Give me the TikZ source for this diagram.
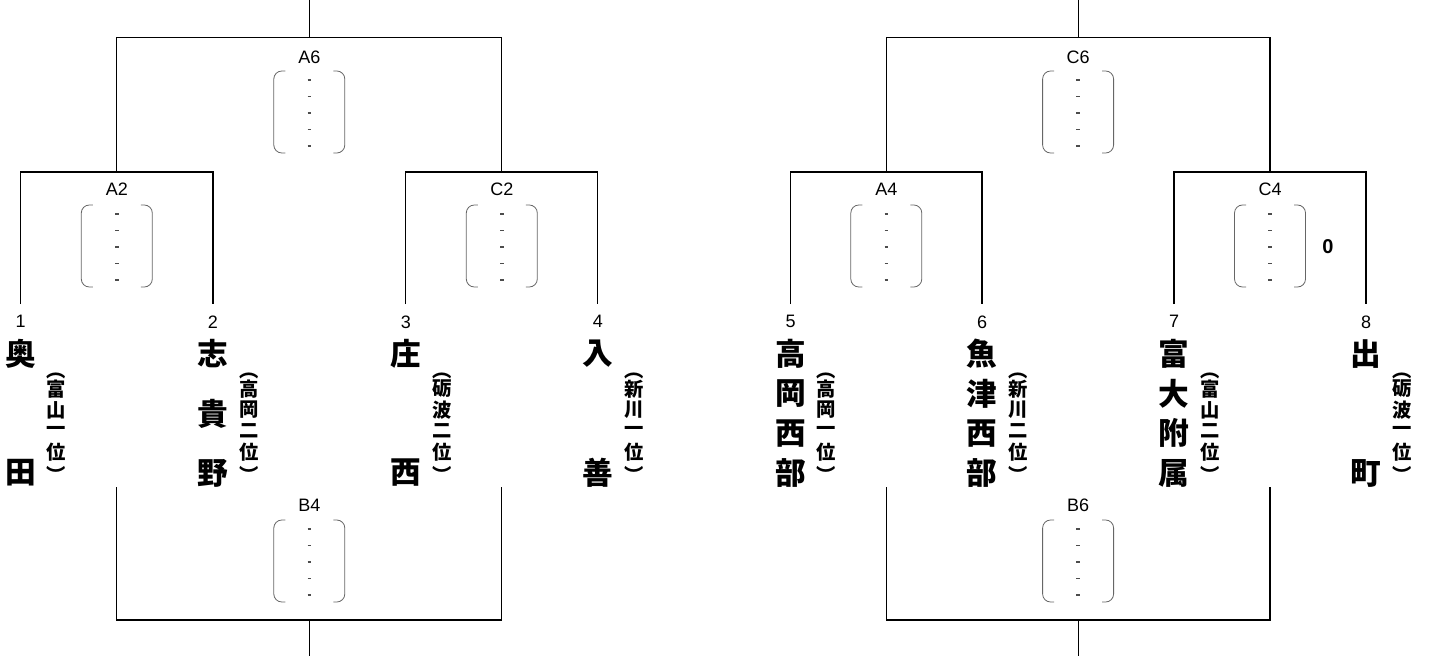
\documentclass[tikz,border=0pt]{standalone}
\usepackage{fontspec}
\setmainfont{Liberation Sans}
\newfontfamily\jpfont{Noto Sans CJK JP}
\usetikzlibrary{positioning}

\tikzset{
  numlbl/.style={font=\fontsize{13.5}{14}\selectfont, inner sep=0pt},
  matchlbl/.style={font=\fontsize{13.5}{14}\selectfont, inner sep=0pt},
  namechar/.style={font=\jpfont\bfseries\fontsize{23}{23}\selectfont, inner sep=0pt},
  subchar/.style={font=\jpfont\bfseries\fontsize{14.5}{14.5}\selectfont, inner sep=0pt},
  bracket/.style={line width=0.9pt},
  resline/.style={gray!80!black, line width=0.6pt, rounded corners=6pt},
  resdash/.style={gray!60!black, line width=0.9pt},
}

% result box: centre x, top y
\newcommand{\resbox}[2]{%
  \draw[resline] (#1-24,#2) -- (#1-35.5,#2) -- (#1-35.5,#2+82) -- (#1-24,#2+82);
  \draw[resline] (#1+24,#2) -- (#1+35.5,#2) -- (#1+35.5,#2+82) -- (#1+24,#2+82);
  \foreach \k in {0,...,4}
    \draw[resdash] (#1-1.8,#2+9+\k*16.5) -- (#1+1.8,#2+9+\k*16.5);
}

% team: id, x, number, chars, name, prefecture rank
\newcommand{\team}[6]{%
  \coordinate (p#1) at (#2,304);
  \node[numlbl, below=8.5pt of p#1] (n#1) {#3};
  \foreach \c [count=\i from 0] in {#5}
    \node[namechar] (nm#1-\i) at (#2,{354+\i*119/(#4-1)}) {\c};
  \node[subchar] (po#1) at (#2+36,376) {︵};
  \foreach \c [count=\i from 0] in {#6}
    \node[subchar] (sb#1-\i) at (#2+36,389+\i*21) {\c};
  \node[subchar] (pc#1) at (#2+36,474) {︶};
}

\begin{document}
\begin{tikzpicture}[x=0.75pt,y=-0.75pt]
\useasboundingbox (0,0) rectangle (1429,656);

% teams
\team{1}{20.6}{1}{2}{奥,田}{富,山,一,位}
\team{2}{213}{2}{3}{志,貴,野}{高,岡,二,位}
\team{3}{405.8}{3}{2}{庄,西}{砺,波,二,位}
\team{4}{597.8}{4}{2}{入,善}{新,川,一,位}
\team{5}{790.5}{5}{4}{高,岡,西,部}{高,岡,一,位}
\team{6}{982}{6}{4}{魚,津,西,部}{新,川,二,位}
\team{7}{1174}{7}{4}{富,大,附,属}{富,山,二,位}
\team{8}{1366}{8}{2}{出,町}{砺,波,一,位}

% left block
\coordinate (a2) at (116.8,172);
\coordinate (c2) at (501.8,172);
\coordinate (a6) at (309.3,37.3);
\coordinate (top1) at (309.3,0);
\draw[bracket] (p1) |- (a2) -| (p2);
\draw[bracket] (p3) |- (c2) -| (p4);
\draw[bracket] (a2) |- (a6) -| (c2);
\draw[bracket] (a6) -- (top1);
\node[matchlbl] (lA6) at (309.3,57) {A6};
\node[matchlbl] (lA2) at (116.8,189) {A2};
\node[matchlbl] (lC2) at (501.8,189) {C2};
\resbox{309.3}{71}
\resbox{116.8}{205}
\resbox{501.8}{205}

\coordinate (b4l) at (116.8,487);
\coordinate (b4r) at (501.8,487);
\coordinate (b4) at (309.3,620);
\coordinate (bot1) at (309.3,656);
\draw[bracket] (b4l) |- (b4) -| (b4r);
\draw[bracket] (b4) -- (bot1);
\node[matchlbl] (lB4) at (309.3,505) {B4};
\resbox{309.3}{520}

% right block
\coordinate (a4) at (886.3,172);
\coordinate (c4) at (1270,172);
\coordinate (c6) at (1078.1,37.3);
\coordinate (top2) at (1078.1,0);
\draw[bracket] (p5) |- (a4) -| (p6);
\draw[bracket] (p7) |- (c4) -| (p8);
\draw[bracket] (a4) |- (c6) -| (c4);
\draw[bracket] (c6) -- (top2);
\node[matchlbl] (lC6) at (1078.1,57) {C6};
\node[matchlbl] (lA4) at (886.3,189) {A4};
\node[matchlbl] (lC4) at (1270,189) {C4};
\resbox{1078.1}{71}
\resbox{886.3}{205}
\resbox{1270}{205}
\node[matchlbl, font=\bfseries\fontsize{15}{16}\selectfont] (sC4) at (1328,247) {0};

\coordinate (b6l) at (886.3,487);
\coordinate (b6r) at (1270,487);
\coordinate (b6) at (1078.1,620);
\coordinate (bot2) at (1078.1,656);
\draw[bracket] (b6l) |- (b6) -| (b6r);
\draw[bracket] (b6) -- (bot2);
\node[matchlbl] (lB6) at (1078.1,505) {B6};
\resbox{1078.1}{520}
\end{tikzpicture}
\end{document}
